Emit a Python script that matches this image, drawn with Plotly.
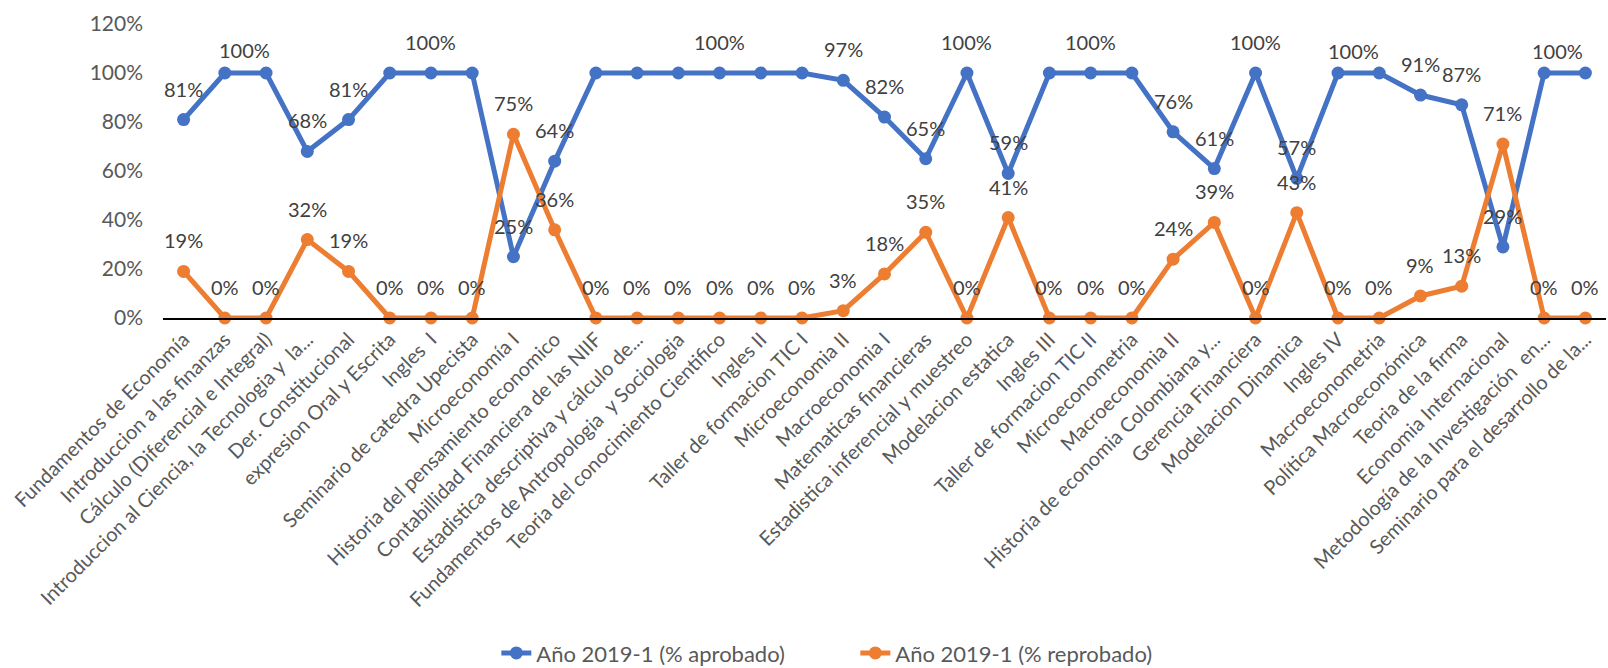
import plotly.graph_objects as go

# Courses (x categories), in the order they appear on the axis
cursos = [
    "Fundamentos de Economía",
    "Introduccion a las finanzas",
    "Cálculo (Diferencial e Integral)",
    "Introduccion al Ciencia, la Tecnologia y  la...",
    "Der. Constitucional",
    "expresion Oral y Escrita",
    "Ingles  I",
    "Seminario de catedra Upecista",
    "Microeconomía I",
    "Historia del pensamiento economico",
    "Contabillidad Financiera de las NIIF",
    "Estadistica descriptiva y cálculo de...",
    "Fundamentos de Antropologia  y Sociologia",
    "Teoria del conocimiento Cientifico",
    "Ingles II",
    "Taller de formacion TIC I",
    "Microeconomia II",
    "Macroeconomia I",
    "Matematicas financieras",
    "Estadistica inferencial y muestreo",
    "Modelacion estatica",
    "Ingles III",
    "Taller de formacion TIC II",
    "Microeconometria",
    "Macroeconomia II",
    "Historia de economia Colombiana y...",
    "Gerencia Financiera",
    "Modelacion Dinamica",
    "Ingles IV",
    "Macroeconometria",
    "Política Macroeconómica",
    "Teoria de la firma",
    "Economia Internacional",
    "Metodología de la Investigación  en...",
    "Seminario para el desarrollo de la...",
]

aprobado = [0.81, 1.00, 1.00, 0.68, 0.81, 1.00, 1.00, 1.00, 0.25, 0.64,
            1.00, 1.00, 1.00, 1.00, 1.00, 1.00, 0.97, 0.82, 0.65, 1.00,
            0.59, 1.00, 1.00, 1.00, 0.76, 0.61, 1.00, 0.57, 1.00, 1.00,
            0.91, 0.87, 0.29, 1.00, 1.00]

reprobado = [0.19, 0.00, 0.00, 0.32, 0.19, 0.00, 0.00, 0.00, 0.75, 0.36,
             0.00, 0.00, 0.00, 0.00, 0.00, 0.00, 0.03, 0.18, 0.35, 0.00,
             0.41, 0.00, 0.00, 0.00, 0.24, 0.39, 0.00, 0.43, 0.00, 0.00,
             0.09, 0.13, 0.71, 0.00, 0.00]

serie_aprobado = "Año 2019-1 (% aprobado)"
serie_reprobado = "Año 2019-1 (% reprobado)"

# blue labels the original chart leaves out / nudges sideways
ocultos_aprobado = {2, 5, 7, 10, 11, 12, 14, 15, 21, 23, 29, 34}
corridos_aprobado = {1: (20, 23), 28: (15, 22), 33: (13, 22)}

AZUL = "#4472C4"
NARANJA = "#ED7D31"
FUENTE = "Lato, 'Open Sans', sans-serif"

fig = go.Figure()
fig.add_trace(go.Scatter(
    x=cursos, y=aprobado, name=serie_aprobado,
    mode="lines+markers",
    line=dict(color=AZUL, width=5),
    marker=dict(color=AZUL, size=13),
    cliponaxis=False,
))
fig.add_trace(go.Scatter(
    x=cursos, y=reprobado, name=serie_reprobado,
    mode="lines+markers",
    line=dict(color=NARANJA, width=5),
    marker=dict(color=NARANJA, size=13),
    cliponaxis=False,
))

anotaciones = []
for i, v in enumerate(aprobado):
    if i in ocultos_aprobado:
        continue
    dx, dy = corridos_aprobado.get(i, (0, 31))
    anotaciones.append(dict(x=cursos[i], y=v, text=f"{round(v * 100)}%", showarrow=False,
                            xshift=dx, yshift=dy, font=dict(size=20, color="#404040", family=FUENTE)))
for i, v in enumerate(reprobado):
    anotaciones.append(dict(x=cursos[i], y=v, text=f"{round(v * 100)}%", showarrow=False,
                            yshift=31, font=dict(size=20, color="#404040", family=FUENTE)))

fig.update_layout(
    width=1608,
    height=668,
    margin=dict(l=163, r=2, t=24, b=350, autoexpand=False),
    paper_bgcolor="white",
    plot_bgcolor="white",
    font=dict(family=FUENTE, color="#595959", size=20),
    annotations=anotaciones,
    showlegend=True,
    legend=dict(
        orientation="h",
        x=0.231, y=-1.14,
        xanchor="left", yanchor="middle",
        font=dict(size=22, color="#595959"),
        entrywidth=314,
    ),
    xaxis=dict(
        type="category",
        tickmode="array",
        tickvals=cursos,
        tickangle=-45,
        showgrid=False,
        showline=True,
        linecolor="#000000",
        linewidth=2,
        ticks="",
        automargin=False,
        range=[-0.5, len(cursos) - 0.5],
        tickfont=dict(size=20, color="#595959"),
    ),
    yaxis=dict(
        range=[0, 1.2],
        dtick=0.2,
        tickformat=".0%",
        showgrid=False,
        zeroline=False,
        showline=False,
        ticks="",
        ticklabelstandoff=19,
        automargin=False,
        tickfont=dict(size=21, color="#595959"),
    ),
)

# the page body has a default 8px margin; drop it so the figure fills the window
fig.write_html(
    "out.html",
    config={"displayModeBar": False},
    post_script="document.body.style.margin='0';document.body.style.overflow='hidden';",
)
